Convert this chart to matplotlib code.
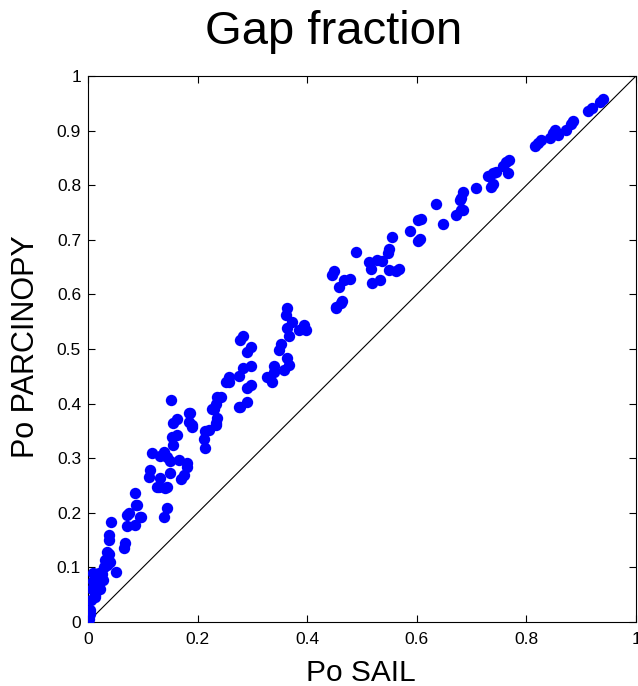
import numpy as np
import matplotlib
matplotlib.use('Agg')
import matplotlib.pyplot as plt

plt.rcParams['font.family'] = ['Liberation Sans', 'DejaVu Sans']

# gap fraction: SAIL (x) vs PARCINOPY (y)
po_sail = [
    0.000, 0.002, 0.003, 0.004, 0.005, 0.008, 0.010, 0.010, 0.012, 0.013,
    0.015, 0.018, 0.020, 0.022, 0.022, 0.025, 0.028, 0.030, 0.031, 0.034,
    0.035, 0.038, 0.039, 0.039, 0.040, 0.042, 0.052, 0.065, 0.068, 0.071,
    0.072, 0.074, 0.086, 0.086, 0.088, 0.089, 0.094, 0.096, 0.111, 0.114,
    0.117, 0.126, 0.129, 0.132, 0.132, 0.138, 0.138, 0.141, 0.144, 0.144,
    0.144, 0.150, 0.150, 0.152, 0.153, 0.156, 0.156, 0.163, 0.163, 0.166,
    0.169, 0.175, 0.180, 0.181, 0.184, 0.184, 0.187, 0.190, 0.190, 0.211,
    0.214, 0.214, 0.220, 0.227, 0.230, 0.233, 0.233, 0.233, 0.236, 0.236,
    0.242, 0.251, 0.257, 0.257, 0.275, 0.275, 0.278, 0.278, 0.282, 0.282,
    0.291, 0.291, 0.291, 0.297, 0.297, 0.297, 0.327, 0.336, 0.339, 0.339,
    0.349, 0.352, 0.358, 0.361, 0.364, 0.364, 0.364, 0.367, 0.367, 0.373,
    0.385, 0.394, 0.397, 0.446, 0.449, 0.452, 0.452, 0.458, 0.461, 0.464,
    0.467, 0.478, 0.489, 0.513, 0.516, 0.519, 0.528, 0.532, 0.536, 0.547,
    0.550, 0.550, 0.555, 0.562, 0.568, 0.588, 0.602, 0.602, 0.606, 0.608,
    0.635, 0.647, 0.672, 0.678, 0.681, 0.681, 0.684, 0.684, 0.708, 0.730,
    0.736, 0.739, 0.739, 0.745, 0.757, 0.763, 0.766, 0.769, 0.815, 0.821,
    0.827, 0.843, 0.849, 0.852, 0.858, 0.873, 0.882, 0.885, 0.913, 0.919,
    0.934, 0.940,
]
po_parcinopy = [
    0.000, 0.005, 0.015, 0.022, 0.040, 0.060, 0.075, 0.090, 0.050, 0.046,
    0.085, 0.070, 0.090, 0.083, 0.060, 0.088, 0.077, 0.100, 0.114, 0.129,
    0.105, 0.125, 0.159, 0.151, 0.110, 0.184, 0.092, 0.135, 0.144, 0.196,
    0.175, 0.199, 0.236, 0.178, 0.214, 0.214, 0.193, 0.193, 0.265, 0.278,
    0.310, 0.248, 0.248, 0.304, 0.263, 0.312, 0.193, 0.245, 0.303, 0.248,
    0.208, 0.294, 0.272, 0.407, 0.339, 0.364, 0.324, 0.371, 0.342, 0.297,
    0.261, 0.269, 0.283, 0.291, 0.383, 0.367, 0.382, 0.358, 0.361, 0.336,
    0.318, 0.349, 0.352, 0.391, 0.391, 0.364, 0.400, 0.361, 0.413, 0.373,
    0.413, 0.440, 0.440, 0.449, 0.394, 0.451, 0.516, 0.394, 0.523, 0.465,
    0.495, 0.428, 0.403, 0.504, 0.469, 0.434, 0.449, 0.440, 0.468, 0.458,
    0.499, 0.510, 0.462, 0.562, 0.575, 0.538, 0.483, 0.523, 0.471, 0.550,
    0.535, 0.544, 0.535, 0.636, 0.642, 0.577, 0.575, 0.614, 0.584, 0.587,
    0.626, 0.629, 0.678, 0.660, 0.646, 0.620, 0.663, 0.626, 0.661, 0.676,
    0.683, 0.645, 0.705, 0.642, 0.646, 0.717, 0.736, 0.697, 0.701, 0.739,
    0.766, 0.729, 0.745, 0.773, 0.755, 0.776, 0.788, 0.755, 0.794, 0.817,
    0.797, 0.822, 0.802, 0.825, 0.835, 0.843, 0.822, 0.846, 0.871, 0.878,
    0.883, 0.886, 0.895, 0.901, 0.892, 0.902, 0.913, 0.918, 0.935, 0.941,
    0.953, 0.957,
]

x_ticks = [0, 0.2, 0.4, 0.6, 0.8, 1]
x_labels = ['0', '0.2', '0.4', '0.6', '0.8', '1']
y_ticks = [0, 0.1, 0.2, 0.3, 0.4, 0.5, 0.6, 0.7, 0.8, 0.9, 1]
y_labels = ['0', '0.1', '0.2', '0.3', '0.4', '0.5', '0.6', '0.7', '0.8', '0.9', '1']

W, H = 638, 686
fig = plt.figure(figsize=(W / 100, H / 100), dpi=100)
ax = fig.add_axes([88 / W, 1 - 622 / H, 548 / W, 546 / H])

ax.plot(po_sail, po_parcinopy, 'o', color='#0000ff', markersize=8.2,
        markeredgewidth=0, zorder=3)
ax.plot([0, 1], [0, 1], color='black', linewidth=0.8, zorder=2)

ax.set_xlim(0, 1)
ax.set_ylim(0, 1)
ax.set_xticks(x_ticks)
ax.set_xticklabels(x_labels)
ax.set_yticks(y_ticks)
ax.set_yticklabels(y_labels)
ax.tick_params(direction='in', top=True, right=True, length=5, width=0.8,
               labelsize=12.5)
ax.tick_params(axis='x', pad=7)
ax.tick_params(axis='y', pad=5)
for s in ax.spines.values():
    s.set_linewidth(0.8)

# title and labels placed like the original figure
fig.text(334 / W, 1 - 44 / H, 'Gap fraction', ha='center', va='baseline',
         fontsize=34)
fig.text(361 / W, 1 - 681 / H, 'Po SAIL', ha='center', va='baseline',
         fontsize=21.5)
fig.text(26 / W, 1 - 347 / H, 'Po PARCINOPY', ha='center', va='center',
         rotation=90, fontsize=22)

fig.savefig('out.png', dpi=100)
